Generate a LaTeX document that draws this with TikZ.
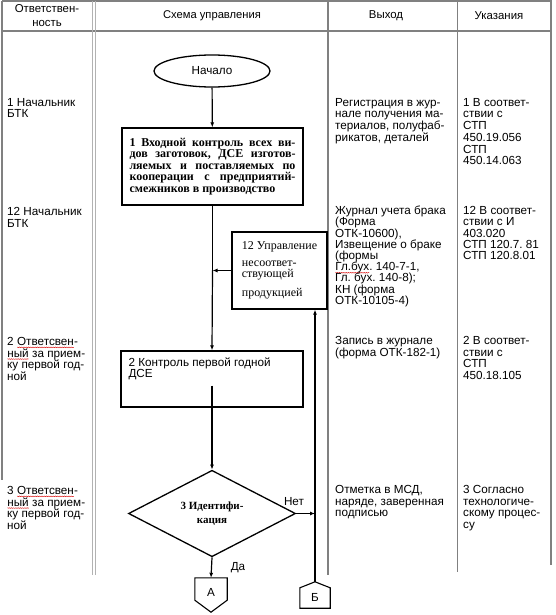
\documentclass[tikz,border=0pt]{standalone}
\usepackage{fontspec}
\setmainfont{Liberation Sans}
\newfontfamily\tnr{Liberation Serif}
\usetikzlibrary{shapes.geometric,arrows.meta,decorations.pathmorphing}
\newcommand\spell[1]{\tikz[baseline=(w.base)]{\node[inner sep=0pt, outer sep=0pt, anchor=base west, draw=none] (w) at (0,0) {#1};\draw[red!85!black, line width=0.35pt, decorate, decoration={snake, amplitude=0.4pt, segment length=1.8pt}] ([yshift=-2pt]w.base west) -- ([yshift=-2pt]w.base east);}}
\frenchspacing
\begin{document}
\begin{tikzpicture}[x=1pt, y=-1pt,
	rule/.style={draw=gray, line width=1.5pt},
	cell/.style={anchor=north west, inner sep=0pt, align=left, font=\fontsize{11.7}{11.7}\selectfont},
	block/.style={rectangle, draw=black, line width=1.3pt},
	flow/.style={-{Latex[length=5pt,width=4pt]}, line width=1.2pt}]
	\useasboundingbox (0,0) rectangle (555,615);
	\draw[rule] (2,1) -- (552,1);
	\draw[rule] (2,31) -- (552,31);
	\draw[rule] (2,1) -- (2,480);
	\draw[gray!60, line width=0.9pt] (92,1) -- (92,575) (95.5,1) -- (95.5,575);
	\draw[rule] (328,1) -- (328,575);
	\draw[rule] (457.5,1) -- (457.5,572);
	\draw[rule] (551,1) -- (551,565);
	\node[cell, anchor=center, align=center, font=\fontsize{11.4}{14}\selectfont] (hresp) at (47,15.5) {Ответствен-\\ность};
	\node[cell, anchor=center, font=\fontsize{11.2}{13}\selectfont] (hscheme) at (212,16) {Схема управления};
	\node[cell, anchor=center, font=\fontsize{11.4}{13}\selectfont] (hout) at (386,16) {Выход};
	\node[cell, anchor=center, font=\fontsize{11.4}{13}\selectfont] (hnote) at (499,16) {Указания};
	\node[cell] (resp1) at (7,98) {1 Начальник\\БТК};
	\node[cell] (resp12) at (7,207) {12 Начальник\\БТК};
	\node[cell] (resp2) at (7,337) {2 \spell{Ответсвен}-\\\spell{ный} за прием-\\ку первой год-\\ной};
	\node[cell] (resp3) at (7,486) {3 \spell{Ответсвен}-\\\spell{ный} за прием-\\ку первой год-\\ной};
	\node[cell] (out1) at (335,98) {Регистрация в жур-\\нале получения ма-\\териалов, полуфаб-\\рикатов, деталей};
	\node[cell, font=\fontsize{11.7}{11.2}\selectfont] (out12) at (335,206) {Журнал учета брака\\(Форма\\ОТК-10600),\\Извещение о браке\\(формы\\\spell{Гл.бух}. 140-7-1,\\Гл. бух. 140-8);\\КН (форма\\ОТК-10105-4)};
	\node[cell] (out2) at (335,336) {Запись в журнале\\(форма ОТК-182-1)};
	\node[cell] (out3) at (335,485) {Отметка в МСД,\\наряде, заверенная\\подписью};
	\node[cell] (note1) at (463,98) {1 В соответ-\\ствии с\\СТП\\450.19.056\\СТП\\450.14.063};
	\node[cell, font=\fontsize{11.7}{11.4}\selectfont] (note12) at (463,206) {12 В соответ-\\ствии с И\\403.020\\СТП 120.7. 81\\СТП 120.8.01};
	\node[cell] (note2) at (463,336) {2 В соответ-\\ствии с\\СТП\\450.18.105};
	\node[cell] (note3) at (463,485) {3 Согласно\\технологиче-\\скому процес-\\су};
	\node[ellipse, draw=black, line width=1.3pt, minimum width=116pt, minimum height=32pt, font=\fontsize{11.7}{13}\selectfont] (start) at (212,71) {Начало};
	\node[block, minimum width=181pt, minimum height=77pt, text width=166pt, align=justify, font=\tnr\bfseries\fontsize{12}{11.4}\selectfont] (box1) at (212.5,166.5) {1 Входной контроль всех ви-\linebreak дов заготовок, ДСЕ изготов-\linebreak ляемых и поставляемых по\linebreak кооперации с предприятий-\linebreak смежников в производство};
	\node[block, minimum width=95pt, minimum height=77pt, inner xsep=7.5pt, align=left, font=\tnr\fontsize{12}{11.5}\selectfont] (box12) at (279.5,270.5) {12 Управление\\[5pt]несоответ-\\ствующей\\[7pt]продукцией};
	\node[block, minimum width=182pt, minimum height=56pt] (box2) at (212,379) {};
	\node[cell] (box2txt) at ([xshift=8pt,yshift=-7pt]box2.north west) {2 Контроль первой годной\\ДСЕ};
	\node[diamond, draw=black, line width=1.3pt, inner sep=0pt, minimum width=167pt, minimum height=73pt, align=center, font=\tnr\bfseries\fontsize{11}{14}\selectfont] (decide) at (212,513.5) {3 Идентифи-\\кация};
	\node[minimum width=32pt, minimum height=34pt, inner sep=0pt] (offA) at (211,595) {};
	\draw[line width=1.1pt] (offA.north west) -- (offA.north east) -- ([yshift=12pt]offA.south east) -- (offA.south) -- ([yshift=12pt]offA.south west) -- cycle;
	\node[font=\fontsize{11.7}{13}\selectfont] (labA) at ([yshift=3pt]offA.center) {А};
	\node[minimum width=30pt, minimum height=26pt, inner sep=0pt] (offB) at (315,595) {};
	\draw[line width=1.1pt] (offB.north) -- ([yshift=-6pt]offB.north east) -- (offB.south east) -- (offB.south west) -- ([yshift=-6pt]offB.north west) -- cycle;
	\node[font=\fontsize{11.7}{13}\selectfont] (labB) at ([yshift=-2pt]offB.center) {Б};
	\coordinate (join) at (box12.west -| box1.south);
	\coordinate (back) at (decide.east -| offB.north);
	\draw[flow] (start) -- (box1);
	\draw[line width=1.2pt] (box1.south) -- (join);
	\draw[flow] (join) -- (box2.north);
	\draw[flow] (box12.west) -- (join);
	\draw[flow] ([yshift=22pt]box2.south) -- (decide.north);
	\draw[flow] (decide.east) -- (back);
	\draw[flow] (offB.north) -- (offB.north |- box12.south);
	\draw[flow] (decide.south) -- (offA.north);
	\node[font=\fontsize{11.7}{13}\selectfont] (no) at (294,502) {Нет};
	\node[font=\fontsize{11.7}{13}\selectfont] (yes) at (238,568) {Да};
\end{tikzpicture}
\end{document}
